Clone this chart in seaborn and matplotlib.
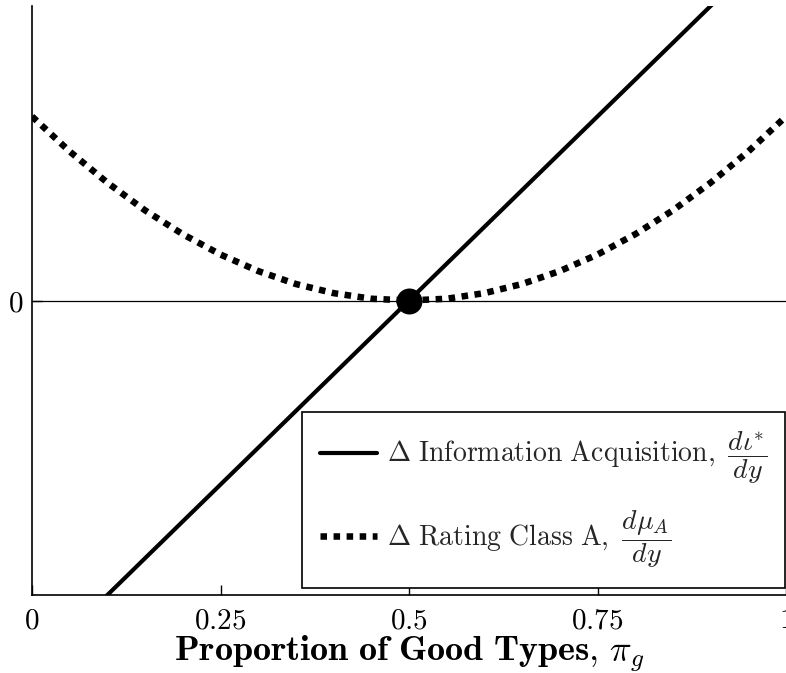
import matplotlib
matplotlib.use("Agg")
import matplotlib.pyplot as plt
import seaborn as sns
import pandas as pd

# ---- data ----
line_x = [0.0, 1.0]
line_y = [-1.25, 1.25]

curve_x = [0.0, 0.05, 0.10, 0.15, 0.20, 0.25, 0.30, 0.35, 0.40, 0.45, 0.50,
           0.55, 0.60, 0.65, 0.70, 0.75, 0.80, 0.85, 0.90, 0.95, 1.0]
curve_y = [0.625, 0.506, 0.400, 0.306, 0.225, 0.156, 0.100, 0.056, 0.025, 0.006, 0.0,
           0.006, 0.025, 0.056, 0.100, 0.156, 0.225, 0.306, 0.400, 0.506, 0.625]

point_x = [0.5]
point_y = [0.0]

xticks = [0, 0.25, 0.5, 0.75, 1]
xtick_labels = [r"$0$", r"$0.25$", r"$0.5$", r"$0.75$", r"$1$"]
yticks = [0]
ytick_labels = [r"$0$"]

label_line = r"$\Delta\ \mathrm{Information\ Acquisition,}\ \dfrac{d\iota^{*}}{dy}$"
label_curve = r"$\Delta\ \mathrm{Rating\ Class\ A,}\ \dfrac{d\mu_{A}}{dy}$"
xlabel = r"$\mathbf{Proportion\ of\ Good\ Types,}\,\pi_{g}$"

# ---- style ----
sns.set_theme(style="white")
plt.rcParams["mathtext.fontset"] = "cm"
plt.rcParams["font.family"] = ["DejaVu Serif"]

W, H = 786, 673
fig = plt.figure(figsize=(W / 100, H / 100), dpi=100)
ax = fig.add_axes([32 / W, 1 - 595 / H, 754 / W, (595 - 6) / H])

df_line = pd.DataFrame({"x": line_x, "y": line_y})
df_curve = pd.DataFrame({"x": curve_x, "y": curve_y})

ax.axhline(0, color="black", lw=0.9, zorder=1)

sns.lineplot(data=df_line, x="x", y="y", ax=ax, color="black", lw=3.0,
             label=label_line, zorder=3)
sns.lineplot(data=df_curve, x="x", y="y", ax=ax, color="black", lw=4.7,
             linestyle=(0, (1, 1)), label=label_curve, zorder=3)
sns.scatterplot(x=point_x, y=point_y, ax=ax, color="black", s=300,
                edgecolor="black", zorder=5, legend=False)

ax.set_xlim(0, 1)
ax.set_ylim(-1.0, 1.0)
ax.set_xticks(xticks)
ax.set_xticklabels(xtick_labels)
ax.set_yticks(yticks)
ax.set_yticklabels(ytick_labels)
ax.tick_params(axis="both", direction="in", length=7, width=1.0,
               labelsize=21, colors="black", bottom=True, left=True)
ax.tick_params(axis="x", pad=8)
ax.tick_params(axis="y", pad=6)

for side in ["top", "right"]:
    ax.spines[side].set_visible(False)
for side in ["left", "bottom"]:
    ax.spines[side].set_color("black")
    ax.spines[side].set_linewidth(1.2)

ax.set_xlabel(xlabel, fontsize=26, color="black", labelpad=0)
ax.set_ylabel("")

leg = ax.legend(loc="lower right", bbox_to_anchor=(0.999, 0.012),
                frameon=True, fancybox=False, edgecolor="black",
                framealpha=1, fontsize=20, handlelength=2.05,
                handletextpad=0.35, labelspacing=0.8, borderpad=0.65,
                borderaxespad=0)
leg.get_frame().set_linewidth(1.2)

fig.savefig("out.png", dpi=100)
